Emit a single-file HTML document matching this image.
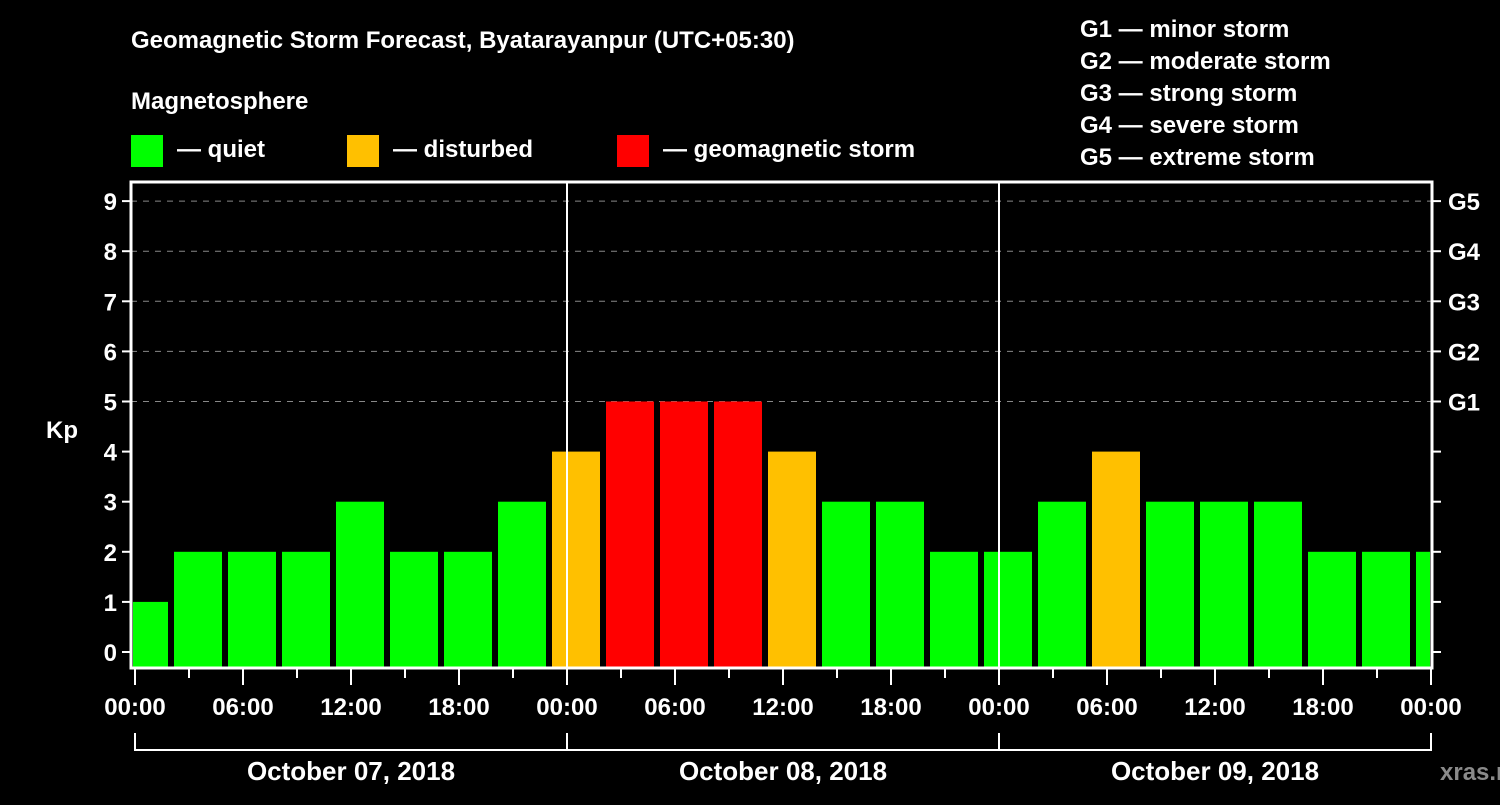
<!DOCTYPE html>
<html><head><meta charset="utf-8"><style>
body{margin:0;background:#000;width:1500px;height:800px;overflow:hidden}
svg text{font-family:"Liberation Sans",sans-serif;font-weight:bold;fill:#fff}
</style></head><body>
<svg id="c" width="1500" height="800">
<text x="131" y="48" font-size="24">Geomagnetic Storm Forecast, Byatarayanpur (UTC+05:30)</text>
<text x="131" y="109" font-size="24">Magnetosphere</text>
<rect x="131" y="135" width="32" height="32" fill="#00ff00"/>
<text x="177" y="157" font-size="24">— quiet</text>
<rect x="347" y="135" width="32" height="32" fill="#ffc000"/>
<text x="393" y="157" font-size="24">— disturbed</text>
<rect x="617" y="135" width="32" height="32" fill="#ff0000"/>
<text x="663" y="157" font-size="24">— geomagnetic storm</text>
<g font-size="24">
<text x="1080" y="37">G1 — minor storm</text>
<text x="1080" y="69">G2 — moderate storm</text>
<text x="1080" y="101">G3 — strong storm</text>
<text x="1080" y="133">G4 — severe storm</text>
<text x="1080" y="165">G5 — extreme storm</text>
</g>
<text x="62" y="438" font-size="24" text-anchor="middle">Kp</text>
<text x="1440" y="780" font-size="24" fill="#888" style="fill:#8a8a8a">xras.ru</text>
<g id="g"></g>
</svg>
<script>
const kpValues=[1,2,2,2,3,2,2,3,4,5,5,5,4,3,3,2,2,3,4,3,3,3,2,2,2];
const yTicks=[0,1,2,3,4,5,6,7,8,9];
const gLabels=["G1","G2","G3","G4","G5"];
const hourLabels=["00:00","06:00","12:00","18:00","00:00","06:00","12:00","18:00","00:00","06:00","12:00","18:00","00:00"];
const dayLabels=["October 07, 2018","October 08, 2018","October 09, 2018"];
const firstSlotHour=-1; // bars start at hour -1 (3h each)
const NS="http://www.w3.org/2000/svg";
const g=document.getElementById('g');
const X0=135,PXH=18,Y0=652,PXU=50.1,L=131,R=1432,T=182,B=668;
const x=h=>X0+h*PXH, y=v=>Y0-v*PXU;
function mk(t,a,p){const e=document.createElementNS(NS,t);for(const k in a)e.setAttribute(k,a[k]);(p||g).appendChild(e);return e;}
const defs=mk('defs',{});const cp=mk('clipPath',{id:'cp'},defs);mk('rect',{x:L+2,y:T,width:R-L-4,height:B-T},cp);
yTicks.forEach(v=>{
  if(v>=5){const l=mk('line',{x1:L,x2:R,y1:y(v),y2:y(v),stroke:'#888','stroke-dasharray':'6,6','stroke-width':1});
  }
  const t=mk('line',{x1:L-9,x2:L,y1:y(v),y2:y(v),stroke:'#fff','stroke-width':2});
  
  const tr=mk('line',{x1:R,x2:R+9,y1:y(v),y2:y(v),stroke:'#fff','stroke-width':2});
  
  const tx=mk('text',{x:L-14,y:y(v)+9,'font-size':24,'text-anchor':'end'});tx.textContent=v;
  
});
gLabels.forEach((s,i)=>{const tx=mk('text',{x:1448,y:y(5+i)+9,'font-size':24});tx.textContent=s;
  });
const bg=mk('g',{'clip-path':'url(#cp)'});
kpValues.forEach((v,i)=>{const h=firstSlotHour+3*i;
  const c=v>=5?'#ff0000':v>=4?'#ffc000':'#00ff00';
  const r=mk('rect',{x:x(h)+3,y:y(v),width:3*PXH-6,height:B-y(v),fill:c},bg);
  });
[24,48].forEach(h=>{const l=mk('line',{x1:x(h),x2:x(h),y1:T,y2:B,stroke:'#fff','stroke-width':2});
  });
const fr=mk('rect',{x:L,y:T,width:R-L,height:B-T,fill:'none',stroke:'#fff','stroke-width':3});

for(let h=0;h<=72;h+=3){const big=h%6===0;
  const t=mk('line',{x1:x(h),x2:x(h),y1:B,y2:big?685:678,stroke:'#fff','stroke-width':2});
  }
hourLabels.forEach((s,i)=>{const tx=mk('text',{x:x(i*6),y:715,'font-size':24,'text-anchor':'middle'});tx.textContent=s;
  });
const br=mk('path',{d:`M${x(0)} 733V750H${x(72)}V733M${x(24)} 733V750M${x(48)} 733V750`,fill:'none',stroke:'#fff','stroke-width':2});

dayLabels.forEach((s,i)=>{const tx=mk('text',{x:x(i*24+12),y:780,'font-size':26,'text-anchor':'middle'});tx.textContent=s;
  });
</script>
</body></html>
